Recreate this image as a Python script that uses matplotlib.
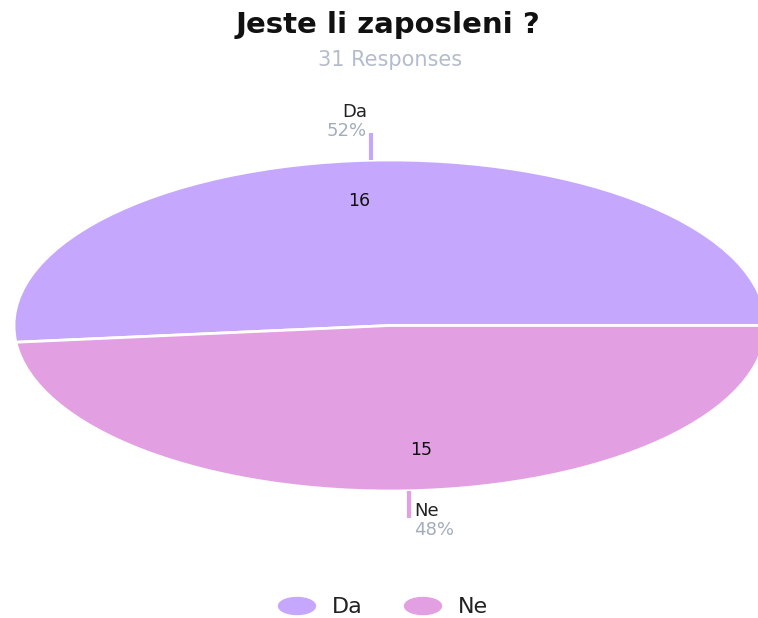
import matplotlib.pyplot as plt
import numpy as np
from matplotlib.patches import Ellipse

plt.rcParams['font.family'] = ['DejaVu Sans']

# data
labels = ["Da", "Ne"]
counts = [16, 15]
colors = ["#c5a8fd", "#e2a0e2"]
title = "Jeste li zaposleni ?"
subtitle = "31 Responses"

W, H = 758, 618
fig = plt.figure(figsize=(W / 100, H / 100), dpi=100)

# pie axes is stretched horizontally (ellipse), centre ~ (390, 325), rx 376, ry 166
cx, cy, rx, ry = 390, 325.5, 376, 165.5
ax = fig.add_axes([(cx - rx) / W, (H - cy - ry) / H, 2 * rx / W, 2 * ry / H])
wedges, _ = ax.pie(counts, colors=colors, startangle=0, counterclock=True,
                   wedgeprops=dict(edgecolor="white", linewidth=2))
ax.set_aspect("auto")
ax.set_xlim(-1, 1)
ax.set_ylim(-1, 1)
ax.axis("off")

total = sum(counts)
start = 0.0
for i, (lab, c) in enumerate(zip(labels, counts)):
    frac = c / total
    mid = np.deg2rad(start + frac * 360 / 2)
    start += frac * 360
    x, y = np.cos(mid), np.sin(mid)
    sgn = np.sign(y)
    # count inside the slice
    ax.text(x * 0.75 - 0.045 * sgn, y * 0.755, str(c), ha="center", va="center",
            fontsize=12.5, color="#111111")
    # leader line, vertical, outside the ellipse
    ln = 27 / ry
    ax.plot([x, x], [y, y + sgn * ln], color=colors[i], lw=3,
            solid_capstyle="butt", clip_on=False)
    pct = f"{round(frac * 100)}%"
    if sgn > 0:
        tx = x - 4 / rx
        ax.text(tx, y + sgn * 48 / ry, lab, ha="right", va="center",
                fontsize=13, color="#222222", clip_on=False)
        ax.text(tx, y + sgn * 29 / ry, pct, ha="right", va="center",
                fontsize=13, color="#a4acbc", clip_on=False)
    else:
        tx = x + 5 / rx
        ax.text(tx, y + sgn * 20 / ry, lab, ha="left", va="center",
                fontsize=13, color="#222222", clip_on=False)
        ax.text(tx, y + sgn * 39 / ry, pct, ha="left", va="center",
                fontsize=13, color="#a4acbc", clip_on=False)

fig.text(388 / W, 1 - 25 / H, title, ha="center", va="center",
         fontsize=21, fontweight="bold", color="#111111")
fig.text(390 / W, 1 - 60 / H, subtitle, ha="center", va="center",
         fontsize=15, color="#b4bccc")

# legend
leg_x = [297, 423]
for i, lab in enumerate(labels):
    fig.add_artist(Ellipse((leg_x[i] / W, 1 - 606 / H), 37 / W, 17 / H,
                           transform=fig.transFigure, color=colors[i]))
    fig.text((leg_x[i] + 35) / W, 1 - 607 / H, lab, ha="left", va="center",
             fontsize=16, color="#222222")

fig.savefig("out.png", dpi=100)
